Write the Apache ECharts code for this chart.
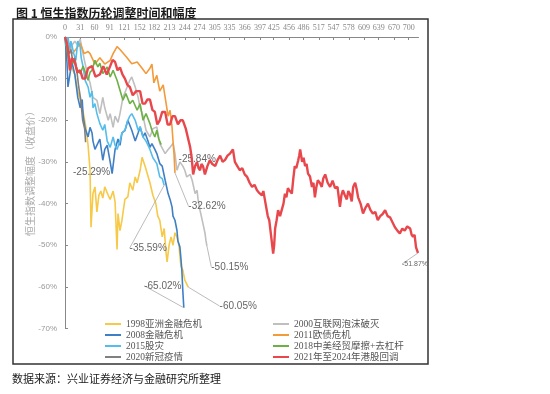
<!DOCTYPE html>
<html><head><meta charset="utf-8">
<script src="https://cdn.jsdelivr.net/npm/echarts@6/dist/echarts.min.js"></script>
<style>html,body{margin:0;padding:0;background:#fff}#c{width:550px;height:394px}</style>
</head><body><div id="c"></div>
<script>
const dayTicks = [0,31,60,91,121,152,182,213,244,274,305,335,366,397,425,456,486,517,547,578,609,639,670,700];
const pctTicks = [0,-10,-20,-30,-40,-50,-60,-70];

const names = ['1998亚洲金融危机','2000互联网泡沫破灭','2008金融危机','2011欧债危机','2015股灾','2018中美经贸摩擦+去杠杆','2020新冠疫情','2021年至2024年港股回调'];
const endLabels = ['-60.05%','-50.15%','-65.02%','-32.62%','-35.59%','-25.84%','-25.29%','-51.87%'];
const yName = '恒生指数调整幅度（收盘价）';

const s1998 = [[0,0],[6,-3],[10,-6],[16,-8],[20,-9],[26,-13],[31,-15],[37,-18],[43,-22],[47,-26],[51,-32],[53,-45.7],[57,-37.6],[61,-36],[65,-42],[69,-38],[73,-37],[77,-38.7],[81,-36],[88,-38],[92,-39],[98,-37],[102,-39.6],[106,-51],[108,-42.4],[112,-46.5],[116,-44],[122,-39],[128,-38.4],[132,-35],[138,-36.8],[143,-33.6],[147,-35],[153,-32],[157,-28.9],[163,-31],[173,-35],[179,-38],[185,-40],[189,-43],[193,-44],[198,-48],[202,-46],[206,-52],[208,-54],[212,-50],[216,-48],[220,-50],[224,-47],[228,-48],[232,-50],[236,-55],[240,-56],[244,-58.4],[251,-60.05]];
const s2000 = [[0,0],[6,-3],[10,-4],[14,-2],[20,-1],[26,-2],[31,-0.5],[35,-3],[41,-6.4],[47,-9.6],[51,-11],[57,-14.5],[65,-15.2],[71,-18.4],[77,-14.5],[81,-17],[88,-20],[92,-18.4],[98,-21.7],[102,-19],[108,-20.5],[112,-18.4],[118,-14.5],[124,-12.8],[132,-10.4],[136,-9.6],[143,-12],[149,-14.5],[153,-17],[159,-19],[165,-22.4],[173,-24],[179,-22],[187,-21.6],[193,-25.6],[204,-28],[210,-27],[214,-26.5],[220,-25.5],[224,-28],[228,-32],[234,-30],[240,-31],[244,-32],[248,-33.6],[255,-33],[259,-34.4],[265,-37.6],[269,-36.8],[271,-39],[275,-41.6],[281,-44.8],[285,-47],[287,-48.8],[289,-50.15]];
const s2008 = [[0,0],[2,-3],[4,-6],[6,-12],[10,-9],[14,-6],[20,-9],[26,-14.5],[31,-17],[35,-15],[37,-19],[41,-22],[47,-24],[51,-21.7],[55,-23],[57,-25],[61,-27],[65,-27],[71,-24.5],[77,-29.6],[81,-27],[86,-26],[92,-30],[96,-32.8],[102,-27],[108,-24.5],[112,-26],[116,-23],[122,-22.5],[128,-20],[136,-22.4],[143,-25],[149,-23],[153,-21.6],[159,-24],[163,-23],[169,-25],[173,-26.5],[177,-25.6],[183,-27],[187,-28],[193,-30.4],[198,-31],[204,-34.4],[210,-37.6],[214,-39],[218,-40.8],[220,-43],[224,-44],[228,-46.4],[230,-49],[234,-50.4],[236,-53],[238,-56],[240,-61],[242,-65.02]];
const s2011 = [[0,0],[6,-2],[14,-4],[22,-3],[31,-1.5],[39,-4],[47,-3.5],[51,-4],[61,-6.5],[71,-5],[81,-6.5],[92,-5.6],[98,-4],[106,-2.3],[112,-3],[116,-3.2],[126,-4.9],[136,-6.4],[147,-6],[157,-7.5],[165,-8.8],[173,-7.5],[177,-6.5],[181,-11],[187,-9.2],[193,-13],[200,-11.5],[206,-16],[210,-19],[214,-17.6],[218,-21.6],[220,-25],[222,-28],[224,-32.62]];
const s2015 = [[0,0],[2,-2],[6,0],[10,-3],[12,-1],[16,-1],[18,-4],[22,-5.6],[26,-1],[31,-2.4],[33,-5],[37,-7.2],[41,-10.4],[47,-12],[51,-14.5],[55,-13],[57,-17],[61,-16],[65,-18.4],[71,-20.8],[77,-22.4],[81,-21],[86,-25],[92,-26.5],[98,-24],[102,-26],[106,-27],[112,-25],[116,-23],[122,-22.4],[128,-20],[132,-19],[136,-18.4],[143,-20],[149,-22.4],[153,-21.5],[159,-24],[165,-25],[169,-26],[173,-27],[179,-29],[187,-30.4],[193,-33.6],[198,-34],[202,-35.59]];
const s2018 = [[0,0],[4,-3],[10,-8],[14,-6],[20,-6.3],[26,-8],[31,-8.8],[37,-7],[41,-7],[47,-10.4],[51,-8.5],[55,-8],[61,-5.6],[67,-7.2],[71,-6.3],[77,-8.8],[86,-7.2],[92,-9.6],[98,-8],[106,-10.4],[112,-12.8],[118,-15.2],[124,-13.6],[132,-16],[138,-15.2],[147,-17.6],[153,-16],[159,-20],[165,-18.4],[173,-20.8],[177,-22.4],[183,-24],[187,-22.4],[191,-24.5],[196,-25.84]];
const s2020 = [[0,0],[4,-2],[8,-4],[12,-3],[16,-6],[20,-5],[24,-8],[28,-12],[32,-15],[36,-20],[40,-22],[42,-25.29]];
const s2021 = [[0,0],[4,-1.5],[8,-5],[10,-8],[14,-5],[20,-6],[25,-8.5],[31,-8],[36,-10],[41,-10],[47,-7.5],[55,-7],[62,-9.5],[71,-9],[78,-7],[85,-9],[92,-7],[97,-5.5],[102,-6],[107,-8],[112,-7.3],[117,-9],[122,-10],[127,-11.5],[132,-12],[138,-14],[145,-13],[153,-13],[158,-16],[163,-16],[168,-15],[173,-15],[178,-17.5],[183,-18],[188,-21],[193,-20],[198,-18],[204,-18],[209,-21],[214,-21],[219,-19],[224,-19],[230,-21],[235,-20],[240,-20],[246,-22],[250,-24],[255,-26.5],[258,-29],[261,-33],[265,-31],[269,-30],[272,-31.5],[275,-32],[278,-30.5],[281,-31],[285,-33],[290,-31],[295,-29.6],[300,-30.5],[306,-31],[311,-29.5],[316,-28.5],[321,-30],[326,-29.5],[331,-28.5],[336,-28],[342,-27],[346,-30],[351,-31],[356,-32],[361,-31.5],[366,-33],[371,-33.6],[376,-35],[381,-36],[386,-35.5],[391,-36.8],[396,-37.5],[401,-38],[404,-37],[407,-39],[410,-41],[413,-43],[416,-44],[419,-47],[422,-47],[424,-52],[426,-50],[428,-46],[431,-44],[434,-41.6],[438,-43],[442,-43],[445,-40],[448,-37.6],[451,-38.5],[454,-36.3],[458,-37],[462,-37.6],[465,-34],[468,-31],[471,-31.5],[475,-29.6],[477,-28.5],[479,-27],[481,-26.7],[483,-30],[486,-29],[489,-31],[492,-30.5],[495,-32.8],[499,-33.5],[503,-36],[506,-35],[509,-38.5],[512,-36],[515,-34.4],[519,-35],[523,-36],[526,-34],[530,-33],[535,-35],[540,-36],[545,-34.5],[550,-36.3],[555,-36],[560,-40.8],[563,-38],[566,-36.8],[570,-38],[574,-39],[577,-37],[580,-37.6],[584,-39.5],[587,-36],[589,-35.5],[591,-35],[594,-36.5],[597,-38.5],[602,-40],[607,-42.4],[612,-41],[617,-40],[622,-41.5],[627,-42.4],[632,-42],[637,-44],[642,-43],[647,-42.5],[652,-41.6],[657,-43],[662,-43.3],[667,-44.5],[672,-45.7],[677,-46.5],[682,-47.2],[687,-46],[692,-46.5],[697,-45.5],[703,-46],[706,-47.5],[709,-48],[712,-47.5],[715,-50.5],[719,-51.87]];

const seriesData = [s1998,s2000,s2008,s2011,s2015,s2018,s2020,s2021];
const colors = ['#F7C948','#BFBFBF','#3F7FC6','#F39A3A','#55BDEB','#6DB046','#808080','#E8474C'];
const widths = [1.6,1.6,1.6,1.6,1.6,1.6,1.6,2.4];
const labelShift = [[50,19],[23,21],[-21,-22],[32,33],[-16,63],[36,15],[6,30],[-3,11]];
const labelSize = [10,10,10,10,10,10,10,7];
const showLeader = [true,true,true,true,true,false,false,true];

const series = seriesData.map((pts,k)=>({
  name: names[k], type:'line', data: pts.map((p,i)=> i===pts.length-1 ? {value:p, label:{show:true}} : p),
  symbol:'circle', symbolSize:0, showSymbol:true, color: colors[k],
  lineStyle:{width:widths[k], color:colors[k]},
  label:{show:false, position:'inside', formatter: endLabels[k], fontSize:labelSize[k], color:'#666', fontFamily:'Liberation Sans'},
  labelLayout:{dx:labelShift[k][0], dy:labelShift[k][1]},
  labelLine:{show:showLeader[k], lineStyle:{color:'#aaa', width:0.8}},
  emphasis:{disabled:true}, z: 2+k
}));

const chart = echarts.init(document.getElementById('c'), null, {renderer:'canvas'});
const legendBase = {orient:'vertical', itemWidth:16, itemHeight:2, icon:'rect', itemGap:1,
  textStyle:{fontSize:9.5, color:'#555', lineHeight:10, fontFamily:'Liberation Serif, Noto Sans CJK SC', padding:[0,0,0,0]}};
chart.setOption({
  animation:false,
  title:{text:'图 1 恒生指数历轮调整时间和幅度', left:11, top:2, textStyle:{fontSize:12, fontWeight:'bold', color:'#1a1a1a', fontFamily:'Noto Sans CJK SC'}},
  graphic:[
    {type:'rect', shape:{x:13, y:19, width:415, height:345}, style:{fill:'none', stroke:'#333', lineWidth:1.5}, silent:true},
    {type:'text', left:12, top:373, style:{text:'数据来源：兴业证券经济与金融研究所整理', fontSize:11, fill:'#1a1a1a', fontFamily:'Noto Sans CJK SC'}},
    {type:'text', x:30, y:171, rotation:Math.PI/2, silent:true,
      style:{text:yName, fontSize:10, fill:'#aaa', fontFamily:'Noto Sans CJK SC', align:'center', verticalAlign:'middle'}}
  ],
  legend:[
    Object.assign({left:100, top:314, data:[names[0],names[2],names[4],names[6]]}, legendBase),
    Object.assign({left:268, top:314, data:[names[1],names[3],names[5],names[7]]}, legendBase)
  ],
  grid:{left:65, top:37, right:131.5, bottom:65.5, containLabel:false},
  xAxis:{type:'value', position:'top', min:0, max:720,
    axisLine:{lineStyle:{color:'#888'}},
    axisTick:{inside:true, length:3, customValues:dayTicks, lineStyle:{color:'#888'}},
    axisLabel:{customValues:dayTicks, fontSize:8, color:'#888', margin:5, fontFamily:'Liberation Serif'},
    splitLine:{show:false}},
  yAxis:{type:'value', min:-70, max:0, interval:10,
    axisLine:{show:true, lineStyle:{color:'#888'}},
    axisTick:{show:true, inside:true, length:3, lineStyle:{color:'#888'}},
    axisLabel:{formatter: v => v + '%', fontSize:8, color:'#999', margin:8, fontFamily:'Liberation Sans'},
    splitLine:{show:false}},
  series: series
});
</script></body></html>
